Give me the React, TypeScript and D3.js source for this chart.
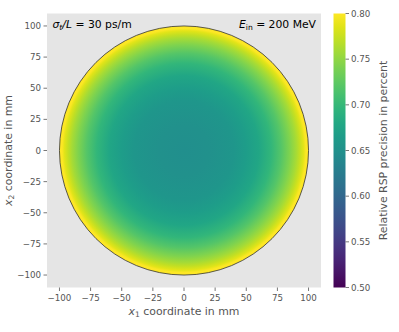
import React from "react";
import * as d3 from "d3";

// Radial profile of the relative RSP precision
const radiiMm = [0, 20, 40, 50, 60, 70, 78, 85, 90, 93, 96, 98, 100];
const precision = [0.648, 0.65, 0.658, 0.666, 0.678, 0.698, 0.72, 0.742, 0.76, 0.772, 0.787, 0.799, 0.812];

const xTicks = [-100, -75, -50, -25, 0, 25, 50, 75, 100];
const yTicks = [-100, -75, -50, -25, 0, 25, 50, 75, 100];
const cbTicks = [0.5, 0.55, 0.6, 0.65, 0.7, 0.75, 0.8];

const W = 399, H = 332;
const plot = { left: 47, right: 321, top: 13.5, bottom: 287.5 };
const cb = { left: 333.5, right: 345.5, top: 13.5, bottom: 287.5 };
const FONT = "DejaVu Sans, sans-serif";

export default function App() {
  const x = d3.scaleLinear().domain([-110, 110]).range([plot.left, plot.right]);
  const y = d3.scaleLinear().domain([-110, 110]).range([plot.bottom, plot.top]);
  const c = d3.scaleLinear().domain([0.5, 0.8]).range([cb.bottom, cb.top]);
  const col = (v: number) => d3.interpolateViridis(Math.max(0, Math.min(1, (v - 0.5) / 0.3)));
  const R = 100;
  const rx = x(R) - x(0);
  const ry = y(0) - y(R);
  const cbStops = d3.range(0, 1.0001, 0.05);
  const tickColor = "#555555";
  const tickFont = 8.7;
  const labelFont = 10.9;

  return (
    <svg width={W} height={H} style={{ position: "absolute", left: 0, top: 0, fontFamily: FONT }}>
      <defs>
        <radialGradient id="rg" gradientUnits="userSpaceOnUse" cx={x(0)} cy={y(0)} r={rx}>
          {radiiMm.map((r, i) => (
            <stop key={i} offset={r / R} stopColor={col(precision[i])} />
          ))}
        </radialGradient>
        <linearGradient id="cbg" x1="0" y1="1" x2="0" y2="0">
          {cbStops.map((t, i) => (
            <stop key={i} offset={t} stopColor={d3.interpolateViridis(t)} />
          ))}
        </linearGradient>
      </defs>
      <rect width={W} height={H} fill="white" />
      <rect x={plot.left} y={plot.top} width={plot.right - plot.left} height={plot.bottom - plot.top} fill="#e5e5e5" />
      <ellipse cx={x(0)} cy={y(0)} rx={rx} ry={ry} fill="url(#rg)" stroke="#333" strokeWidth={0.8} />

      {/* x axis */}
      {xTicks.map((t) => (
        <g key={"x" + t}>
          <line x1={x(t)} x2={x(t)} y1={plot.bottom} y2={plot.bottom + 3.5} stroke={tickColor} strokeWidth={0.8} />
          <text x={x(t)} y={plot.bottom + 13.8} textAnchor="middle" fontSize={tickFont} fill={tickColor}>
            {t < 0 ? "\u2212" + Math.abs(t) : t}
          </text>
        </g>
      ))}
      {/* y axis */}
      {yTicks.map((t) => (
        <g key={"y" + t}>
          <line x1={plot.left - 3.5} x2={plot.left} y1={y(t)} y2={y(t)} stroke={tickColor} strokeWidth={0.8} />
          <text x={plot.left - 6} y={y(t) + 3.1} textAnchor="end" fontSize={tickFont} fill={tickColor}>
            {t < 0 ? "\u2212" + Math.abs(t) : t}
          </text>
        </g>
      ))}

      <text x={(plot.left + plot.right) / 2} y={314.5} textAnchor="middle" fontSize={labelFont} fill="#555">
        <tspan fontStyle="italic">x</tspan>
        <tspan fontSize={7.6} dy={2}>1</tspan>
        <tspan dy={-2}> coordinate in mm</tspan>
      </text>
      <text transform={`translate(12,${(plot.top + plot.bottom) / 2}) rotate(-90)`} textAnchor="middle" fontSize={labelFont} fill="#555">
        <tspan fontStyle="italic">x</tspan>
        <tspan fontSize={7.6} dy={2}>2</tspan>
        <tspan dy={-2}> coordinate in mm</tspan>
      </text>

      {/* annotations */}
      <text x={52.5} y={27.5} fontSize={10.8} fill="black">
        <tspan fontStyle="italic">σ</tspan>
        <tspan fontStyle="italic" fontSize={7.6} dy={2}>t</tspan>
        <tspan dy={-2} fontStyle="italic">/L</tspan>
        <tspan> = 30 ps/m</tspan>
      </text>
      <text x={316} y={27.5} fontSize={10.8} fill="black" textAnchor="end">
        <tspan fontStyle="italic">E</tspan>
        <tspan fontSize={7.6} dy={2}>in</tspan>
        <tspan dy={-2}> = 200 MeV</tspan>
      </text>

      {/* colorbar */}
      <rect x={cb.left} y={cb.top} width={cb.right - cb.left} height={cb.bottom - cb.top} fill="url(#cbg)" />
      {cbTicks.map((t) => (
        <g key={"c" + t}>
          <line x1={cb.right} x2={cb.right + 3.5} y1={c(t)} y2={c(t)} stroke={tickColor} strokeWidth={0.8} />
          <text x={cb.right + 5.5} y={c(t) + 3.1} fontSize={tickFont} fill={tickColor}>
            {t.toFixed(2)}
          </text>
        </g>
      ))}
      <text transform={`translate(386.5,${(cb.top + cb.bottom) / 2}) rotate(-90)`} textAnchor="middle" fontSize={labelFont} fill="#555">
        Relative RSP precision in percent
      </text>
    </svg>
  );
}
